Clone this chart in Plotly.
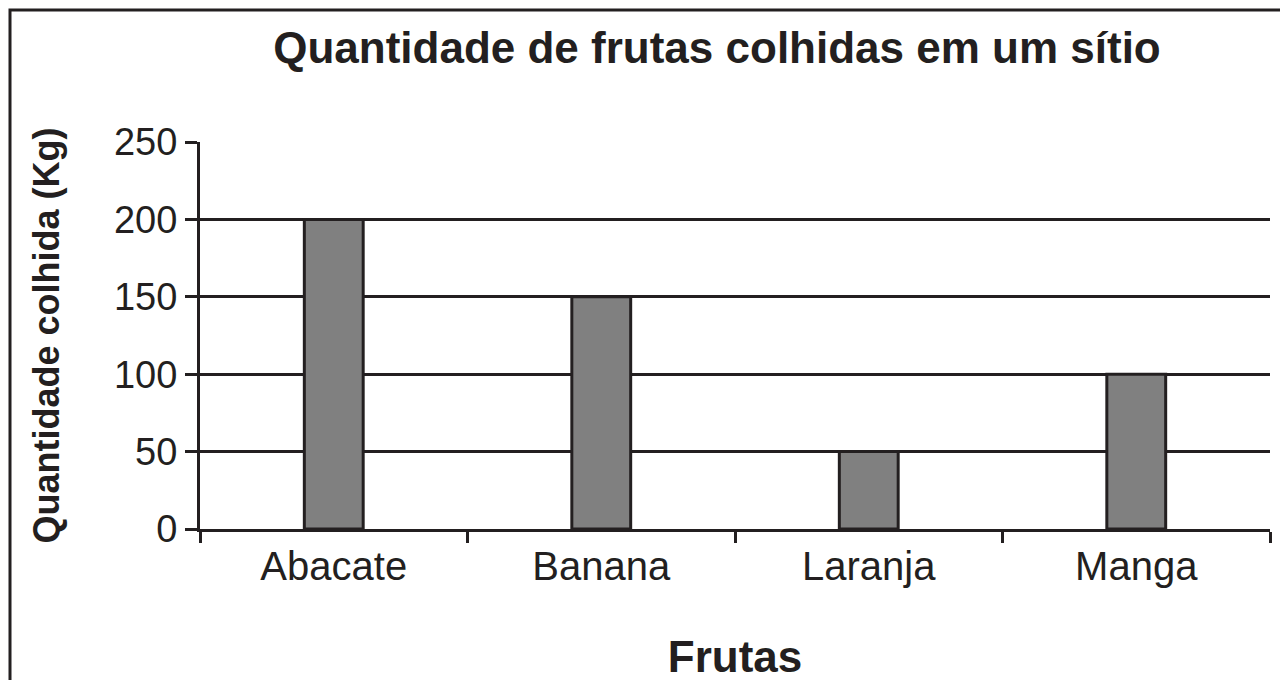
import plotly.graph_objects as go

frutas = ["Abacate", "Banana", "Laranja", "Manga"]
quantidade = [200, 150, 50, 100]
y_ticks = [0, 50, 100, 150, 200, 250]

OFF = 8  # page body margin
W, H = 1280, 680
L, R, T, B = 200 - OFF, W - (1270 - OFF), 142 - OFF, H - (529 - OFF)
pw, ph = W - L - R, H - T - B

def px_x(x):
    return (x - OFF - L) / pw

def px_y(y):
    return (H - B - (y - OFF)) / ph

FONT = "Liberation Sans, Arial, sans-serif"
INK = "#231f20"

fig = go.Figure(go.Bar(
    x=frutas, y=quantidade, width=0.22,
    marker=dict(color="#808080", line=dict(color=INK, width=3)),
))

fig.update_layout(
    width=W, height=H,
    margin=dict(l=L, r=R, t=T, b=B),
    plot_bgcolor="white", paper_bgcolor="white",
    showlegend=False,
    font=dict(family=FONT, color=INK, size=38),
    title=dict(text="<b>Quantidade de frutas colhidas em um sítio</b>",
               x=(717 - OFF) / W, xanchor="center",
               y=1 - (48 - OFF) / H, yanchor="middle",
               font=dict(size=44, family=FONT, color=INK)),
    xaxis=dict(
        type="category", range=[-0.5, 3.5],
        showline=True, linecolor=INK, linewidth=3,
        ticks="outside", tickson="boundaries", ticklen=11, tickwidth=3, tickcolor=INK,
        showgrid=False, zeroline=False,
        tickfont=dict(size=40, family=FONT, color=INK),
        title=dict(text="<b>Frutas</b>", font=dict(size=44, family=FONT, color=INK), standoff=55),
    ),
    yaxis=dict(
        range=[0, 250], tickvals=y_ticks,
        showline=True, linecolor=INK, linewidth=3,
        ticks="outside", ticklen=12, tickwidth=3, tickcolor=INK,
        showgrid=True, gridcolor=INK, gridwidth=3,
        zeroline=False,
        tickfont=dict(size=38, family=FONT, color=INK),
        title=dict(text="<b>Quantidade colhida (Kg)</b>", font=dict(size=36, family=FONT, color=INK), standoff=44),
    ),
)

# outer frame
fig.add_shape(type="rect", xref="paper", yref="paper",
              x0=px_x(10), x1=px_x(1286), y0=px_y(700), y1=px_y(10),
              line=dict(color=INK, width=3), fillcolor="rgba(0,0,0,0)", layer="below")

fig.write_html("out.html")
